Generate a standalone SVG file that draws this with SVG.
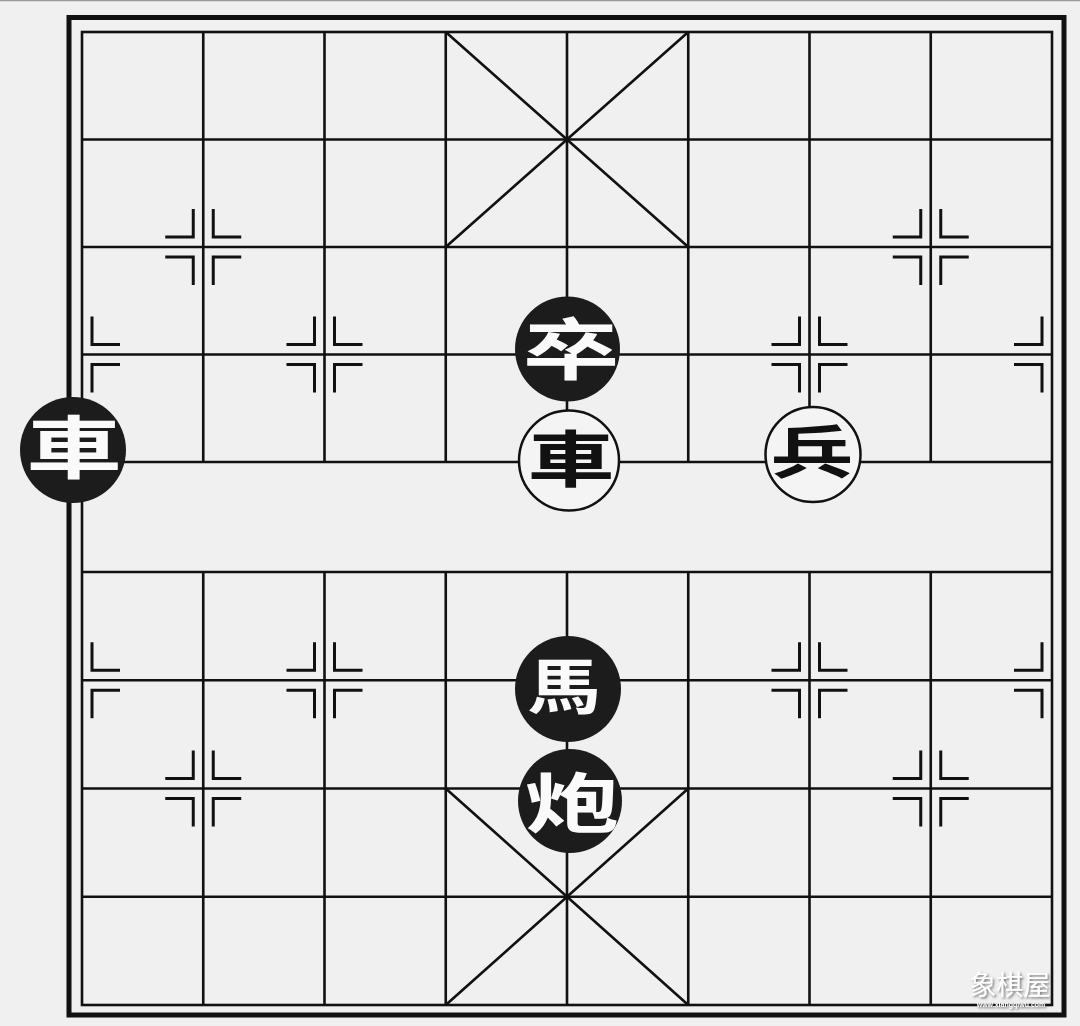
<svg xmlns="http://www.w3.org/2000/svg" width="1080" height="1026" viewBox="0 0 1080 1026">
<style>
.ln{stroke:#111;stroke-width:2.6;fill:none}
.mk{stroke:#111;stroke-width:3;fill:none}
.blk circle{fill:#1c1c1c}
.blk text{fill:#fafafa}
.wht circle{fill:#f4f4f4;stroke:#111;stroke-width:2.5}
.wht text{fill:#111}
.pc text{font-family:"Noto Sans CJK TC","Noto Sans CJK SC",sans-serif;font-weight:700;text-anchor:middle}
</style>
<defs>
<path id="mf" d="M-10,-38V-10H-38M10,-38V-10H38M-10,38V10H-38M10,38V10H38"/>
<path id="mr" d="M10,-38V-10H38M10,38V10H38"/>
<path id="ml" d="M-10,-38V-10H-38M-10,38V10H-38"/>
<filter id="sh" x="-20%" y="-40%" width="140%" height="180%">
<feDropShadow dx="1.5" dy="1.5" stdDeviation="1" flood-color="#555" flood-opacity="0.8"/>
</filter>
</defs>
<rect x="0" y="0" width="1080" height="1026" fill="#f0f0f0"/>
<line x1="0" y1="0.5" x2="1080" y2="0.5" stroke="#9a9a9a" stroke-width="1.5"/>
<g id="frame">
<rect x="69" y="17.5" width="995" height="997.5" fill="none" stroke="#111" stroke-width="5"/>
<rect x="82" y="32" width="970" height="973" class="ln"/>
</g>
<g id="grid" class="ln">
<path d="M82,139.5H1052M82,247H1052M82,354.5H1052M82,462H1052M82,572H1052M82,680.25H1052M82,788.5H1052M82,896.75H1052"/>
<path d="M203.25,32V462M324.5,32V462M445.75,32V462M567,32V462M688.25,32V462M809.5,32V462M930.75,32V462"/>
<path d="M203.25,572V1005M324.5,572V1005M445.75,572V1005M567,572V1005M688.25,572V1005M809.5,572V1005M930.75,572V1005"/>
</g>
<g id="palaces" class="ln">
<path d="M445.75,32L688.25,247M688.25,32L445.75,247"/>
<path d="M445.75,788.5L688.25,1005M688.25,788.5L445.75,1005"/>
</g>
<g id="marks" class="mk">
<use href="#mf" x="203.25" y="247"/>
<use href="#mf" x="930.75" y="247"/>
<use href="#mr" x="82" y="354.5"/>
<use href="#mf" x="324.5" y="354.5"/>
<use href="#mf" x="809.5" y="354.5"/>
<use href="#ml" x="1052" y="354.5"/>
<use href="#mr" x="82" y="680.25"/>
<use href="#mf" x="324.5" y="680.25"/>
<use href="#mf" x="809.5" y="680.25"/>
<use href="#ml" x="1052" y="680.25"/>
<use href="#mf" x="203.25" y="788.5"/>
<use href="#mf" x="930.75" y="788.5"/>
</g>
<g id="piece-black-chariot" class="pc blk">
<circle cx="73" cy="450" r="53"/>
<text transform="translate(74,448) scale(1.4,1)" y="25" font-size="68">車</text>
</g>
<g id="piece-black-soldier" class="pc blk">
<circle cx="567.5" cy="349" r="52.5"/>
<text transform="translate(571,348.5) scale(1.45,1)" y="25" font-size="67">卒</text>
</g>
<g id="piece-red-chariot" class="pc wht">
<circle cx="569" cy="460.5" r="50"/>
<text transform="translate(571,459) scale(1.42,1)" y="22.5" font-size="61">車</text>
</g>
<g id="piece-red-soldier" class="pc wht">
<circle cx="813" cy="454.5" r="47.5"/>
<text transform="translate(812,452) scale(1.45,1)" y="21" font-size="57">兵</text>
</g>
<g id="piece-black-horse" class="pc blk">
<circle cx="568" cy="689" r="53"/>
<text transform="translate(564,686.5) scale(1.22,1)" y="22" font-size="60">馬</text>
</g>
<g id="piece-black-cannon" class="pc blk">
<circle cx="570" cy="801" r="52"/>
<text transform="translate(572,802.5) scale(1.45,1)" y="24" font-size="65">炮</text>
</g>
<g id="watermark" filter="url(#sh)">
<text x="1010" y="995" font-size="27" text-anchor="middle" fill="#ffffff" font-family="'Noto Sans CJK SC',sans-serif">象棋屋</text>
<text x="1011" y="1007" font-size="7" text-anchor="middle" fill="#ffffff" font-family="'Liberation Sans',sans-serif" font-weight="700">www.xiangqiwu.com</text>
</g>
</svg>
